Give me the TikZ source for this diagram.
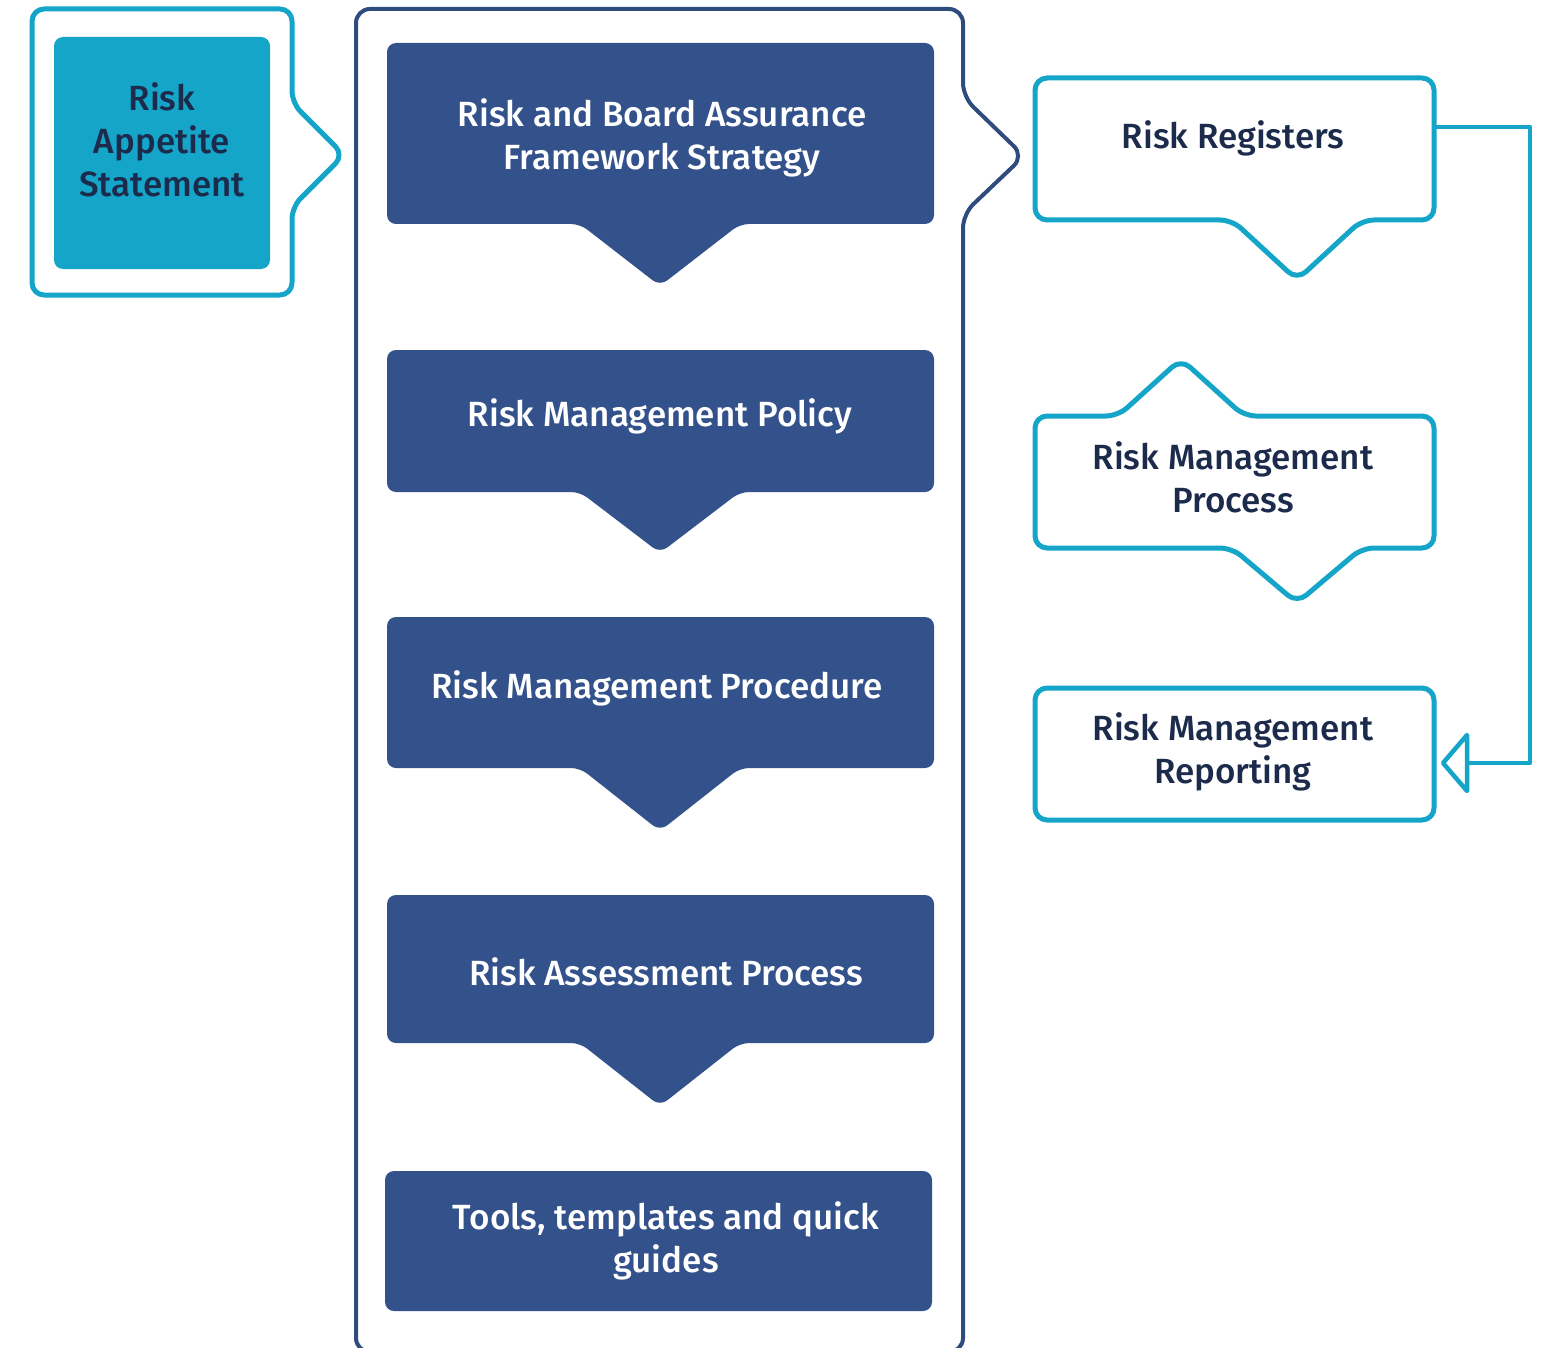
\documentclass[tikz,border=0pt]{standalone}
\usepackage{fontspec}
\setmainfont{Fira Sans}[UprightFont={* Medium},BoldFont={* SemiBold}]
\definecolor{riskcyan}{HTML}{14A5C9}
\definecolor{risknavy}{HTML}{33518A}
\definecolor{frameblue}{HTML}{2F4C7E}
\definecolor{inkdark}{HTML}{1C2A4B}
\begin{document}
\begin{tikzpicture}[x=1pt,y=-1pt,
  label text/.style={font=\fontsize{35}{43}\selectfont, align=center},
  darkbox/.style={fill=risknavy, rounded corners=9},
  lightbox/.style={draw=riskcyan, fill=white, line width=5, rounded corners=12, line join=round},
  framepath/.style={draw=frameblue, line width=4, rounded corners=14, line join=round},
  conn/.style={draw=riskcyan, line width=4.5, line join=round}]
\useasboundingbox (0,0) rectangle (1554,1348);
\clip (0,0) rectangle (1554,1348);

% left callout around the appetite statement
\path[lightbox] (32,9) -- (292,9) -- (292,103) -- (344,155) -- (292,207) -- (292,295) -- (32,295) -- cycle;
\fill[riskcyan, rounded corners=9] (54,37) rectangle (270,269);
\node[label text, text=inkdark] (appetite) at (162,140) {Risk\\Appetite\\Statement};

% main framework frame
\path[framepath] (356,1352) -- (356,9) -- (963,9) -- (963,97) -- (1024,156) -- (963,214) -- (963,1352) -- cycle;

% framework documents
\path[darkbox] (387,43) -- (934,43) -- (934,224) -- (740,224) -- (660,286) -- (580,224) -- (387,224) -- cycle;
\node[label text, text=white] (strategy) at (662,138) {Risk and Board Assurance\\Framework Strategy};

\path[darkbox] (387,350) -- (934,350) -- (934,492) -- (740,492) -- (660,553) -- (580,492) -- (387,492) -- cycle;
\node[label text, text=white] (policy) at (660,416) {Risk Management Policy};

\path[darkbox] (387,617) -- (934,617) -- (934,768) -- (740,768) -- (660,831) -- (580,768) -- (387,768) -- cycle;
\node[label text, text=white] (procedure) at (657,688) {Risk Management Procedure};

\path[darkbox] (387,895) -- (934,895) -- (934,1043) -- (740,1043) -- (660,1106) -- (580,1043) -- (387,1043) -- cycle;
\node[label text, text=white] (assessment) at (666,972) {Risk Assessment Process};

\fill[risknavy, rounded corners=9] (385,1171) rectangle (932,1311);
\node[label text, text=white] (tools) at (666,1241) {Tools, templates and quick\\guides};

% right-hand process boxes
\path[lightbox] (1035,78) -- (1434,78) -- (1434,220) -- (1362,220) -- (1297,280) -- (1232,220) -- (1035,220) -- cycle;
\node[label text, text=inkdark] (registers) at (1233,138) {Risk Registers};

\path[lightbox] (1035,416) -- (1118,416) -- (1181,359) -- (1244,416) -- (1434,416) -- (1434,548) -- (1362,548) -- (1297,603) -- (1232,548) -- (1035,548) -- cycle;
\node[label text, text=inkdark] (process) at (1233,477) {Risk Management\\Process};

\path[lightbox] (1035,688) rectangle (1434,820);
\node[label text, text=inkdark] (reporting) at (1233,752) {Risk Management\\Reporting};

% feedback connector from registers to reporting
\coordinate (rrout) at (1434,127);
\coordinate (rpin) at (1467,763);
\coordinate (rptip) at (1443,763);
\draw[conn] (rrout) -- (1530,127) -- (1530,763) -- (rpin);
\draw[conn] (1467,735) -- (rptip) -- (1467,791) -- cycle;
\end{tikzpicture}
\end{document}
